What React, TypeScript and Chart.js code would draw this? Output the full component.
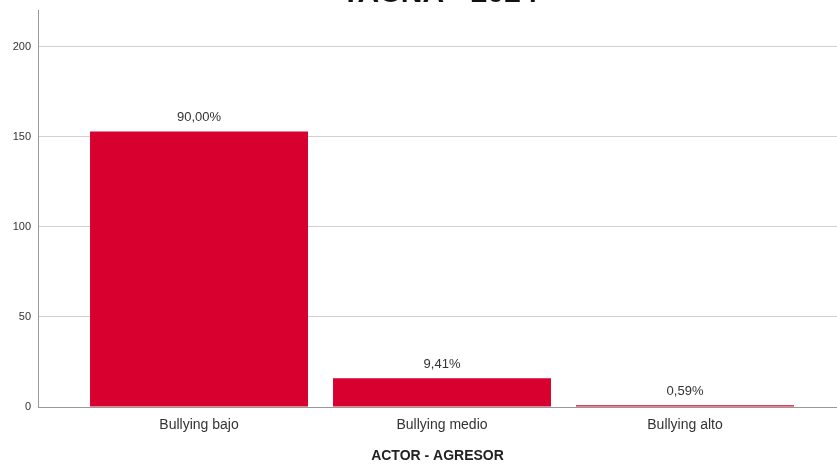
import React, { useEffect, useRef } from "react";
import { Chart, registerables } from "chart.js";

Chart.register(...registerables);

const categories = ["Bullying bajo", "Bullying medio", "Bullying alto"];
const counts = [153, 16, 1];
const percentLabels = ["90,00%", "9,41%", "0,59%"];
const yTicks = [0, 50, 100, 150, 200];
const chartTitle = "TACNA - 2024";
const xAxisTitle = "ACTOR - AGRESOR";

const FONT = "Arial, 'Liberation Sans', sans-serif";

export default function App() {
  const ref = useRef<HTMLCanvasElement | null>(null);

  useEffect(() => {
    document.body.style.margin = "0";
    const canvas = ref.current;
    if (!canvas) return;

    const labelPlugin = {
      id: "pctLabels",
      afterDatasetsDraw(chart: any) {
        const ctx = chart.ctx;
        const meta = chart.getDatasetMeta(0);
        ctx.save();
        ctx.font = `13px ${FONT}`;
        ctx.fillStyle = "#333333";
        ctx.textAlign = "center";
        ctx.textBaseline = "middle";
        meta.data.forEach((bar: any, i: number) => {
          ctx.fillText(percentLabels[i], bar.x, bar.y - 14);
        });
        ctx.restore();
      },
      afterDraw(chart: any) {
        const ctx = chart.ctx;
        const area = chart.chartArea;
        ctx.save();
        ctx.font = `bold 30px ${FONT}`;
        ctx.fillStyle = "#111111";
        ctx.textAlign = "center";
        ctx.textBaseline = "alphabetic";
        ctx.fillText(chartTitle, (area.left + area.right) / 2 + 2, 2);
        ctx.restore();
      },
    };

    const chart = new Chart(canvas, {
      type: "bar",
      data: {
        datasets: [
          {
            data: categories.map((_, i) => ({ x: i, y: counts[i] })) as any,
            backgroundColor: "#d7002f",
            borderWidth: 0,
            categoryPercentage: 1,
            barPercentage: 0.897,
          },
        ],
      },
      options: {
        animation: false,
        responsive: false,
        maintainAspectRatio: false,
        layout: { padding: { top: 10, right: 0, left: 0, bottom: 0 } },
        plugins: {
          legend: { display: false },
          tooltip: { enabled: false },
        },
        scales: {
          x: {
            type: "linear",
            offset: false,
            min: -0.6626,
            max: 2.6255,
            afterBuildTicks(scale: any) {
              scale.ticks = categories.map((_, i) => ({ value: i }));
            },
            afterFit(scale: any) {
              scale.height = 58;
              scale.paddingLeft = 0;
              scale.paddingRight = 0;
            },
            grid: { display: false, drawTicks: false, offset: false },
            border: { display: true, color: "#999999", width: 1 },
            ticks: {
              autoSkip: false,
              maxRotation: 0,
              padding: 10,
              color: "#333333",
              font: { size: 14, family: FONT },
              callback: (v: any) => categories[Math.round(Number(v))] ?? "",
            },
            title: {
              display: true,
              text: xAxisTitle,
              color: "#222222",
              font: { size: 14, weight: "bold", family: FONT },
              padding: { top: 2, bottom: 0 },
            },
          },
          y: {
            min: 0,
            max: 220.5,
            afterBuildTicks(scale: any) {
              scale.ticks = yTicks.map((v) => ({ value: v }));
            },
            afterFit(scale: any) {
              scale.width = 38;
              scale.paddingTop = 0;
              scale.paddingBottom = 0;
            },
            grid: {
              color: "#d0d0d0",
              lineWidth: 1,
              drawTicks: false,
            },
            border: { display: true, color: "#999999", width: 1 },
            ticks: {
              padding: 7,
              color: "#333333",
              font: { size: 11, family: FONT },
            },
          },
        },
      },
      plugins: [labelPlugin],
    });

    return () => chart.destroy();
  }, []);

  return (
    <div style={{ width: 837, height: 465, position: "relative" }}>
      <canvas ref={ref} width={837} height={465} style={{ display: "block" }} />
    </div>
  );
}
